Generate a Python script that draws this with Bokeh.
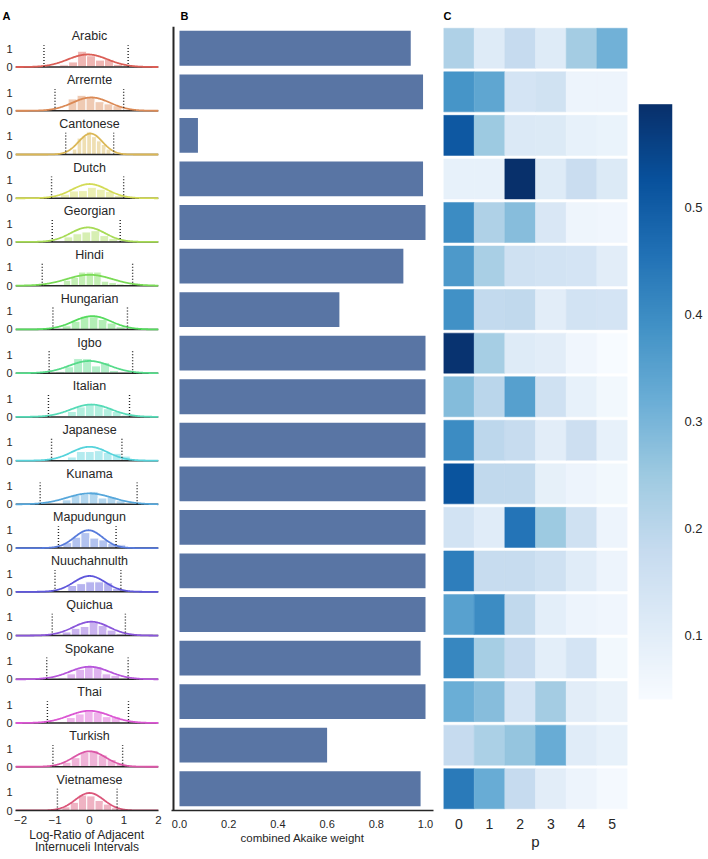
import colorsys
import numpy as np
from bokeh.plotting import figure
from bokeh.layouts import row
from bokeh.models import (Range1d, FactorRange, FixedTicker, PrintfTickFormatter, Span,
                          LinearColorMapper, LinearAxis, ColumnDataSource)
from bokeh.core.properties import value
from bokeh.palettes import Blues256
from bokeh.embed import file_html
from bokeh.resources import INLINE

# ---------------- data ----------------
languages = ["Arabic", "Arrernte", "Cantonese", "Dutch", "Georgian", "Hindi", "Hungarian",
             "Igbo", "Italian", "Japanese", "Kunama", "Mapudungun", "Nuuchahnulth",
             "Quichua", "Spokane", "Thai", "Turkish", "Vietnamese"]

# Panel A: fitted normal (mean, sd), interval bounds, histogram bins
norm_mu = [-0.05, 0.05, 0.03, 0.0, -0.05, 0.0, 0.08, 0.0, 0.05, 0.0, 0.0, -0.03, 0.0, 0.05, 0.0, 0.0, 0.0, 0.0]
norm_sd = [0.578, 0.546, 0.347, 0.511, 0.50, 0.665, 0.546, 0.595, 0.587, 0.525, 0.665, 0.407, 0.458, 0.525, 0.578, 0.595, 0.47, 0.415]
interval_lo = [-1.32, -1.00, -0.69, -1.10, -1.08, -1.37, -1.06, -1.17, -1.19, -1.10, -1.43, -0.90, -1.00, -1.08, -1.24, -1.22, -1.06, -0.93]
interval_hi = [1.12, 0.99, 0.70, 0.99, 0.89, 1.25, 1.10, 1.25, 1.16, 0.94, 1.38, 0.77, 0.91, 1.04, 1.12, 1.13, 0.96, 0.80]
bin_start = [-1.125, -0.62, -0.50, -0.84, -1.52, -0.98, -0.79, -0.98, -0.64, -0.64, -0.79, -1.03, -1.67, -0.79, -1.42, -0.93, -0.79, -0.80]
bin_width = [0.26, 0.26, 0.14, 0.26, 0.26, 0.22, 0.26, 0.26, 0.26, 0.26, 0.26, 0.26, 0.26, 0.26, 0.255, 0.26, 0.26, 0.24]

hist_arabic = [0.04, 0.12, 0.28, 0.87, 0.62, 0.38, 0.42, 0.15, 0.06]
hist_arrernte = [0.65, 0.85, 0.75, 0.50, 0.38, 0.28]
hist_cantonese = [0.30, 0.90, 1.00, 1.25, 0.98, 0.75, 0.55, 0.30]
hist_dutch = [0.22, 0.40, 0.42, 0.60, 0.50, 0.38, 0.15]
hist_georgian = [0.0, 0.04, 0.0, 0.28, 0.45, 0.55, 0.62, 0.35, 0.20]
hist_hindi = [0.08, 0.30, 0.45, 0.75, 0.75, 0.75, 0.25, 0.18, 0.10]
hist_hungarian = [0.20, 0.45, 0.72, 0.70, 0.55, 0.35, 0.15]
hist_igbo = [0.10, 0.35, 0.80, 0.80, 0.40, 0.58, 0.15]
hist_italian = [0.30, 0.55, 0.70, 0.65, 0.45, 0.30, 0.10]
hist_japanese = [0.20, 0.50, 0.50, 0.55, 0.45, 0.40, 0.25]
hist_kunama = [0.25, 0.50, 0.55, 0.70, 0.35, 0.40, 0.20]
hist_mapudungun = [0.08, 0.30, 0.60, 0.85, 0.55, 0.45, 0.25, 0.18]
hist_nuuchahnulth = [0.05, 0.0, 0.0, 0.0, 0.35, 0.45, 0.55, 0.55, 0.50, 0.20, 0.05]
hist_quichua = [0.20, 0.40, 0.50, 0.72, 0.55, 0.30, 0.10]
hist_spokane = [0.12, 0.0, 0.08, 0.30, 0.55, 0.70, 0.70, 0.30, 0.22]
hist_thai = [0.08, 0.30, 0.50, 0.65, 0.60, 0.35, 0.35]
hist_turkish = [0.25, 0.50, 0.80, 0.90, 0.65, 0.40, 0.20]
hist_vietnamese = [0.20, 0.45, 0.85, 0.80, 0.55, 0.35, 0.15]

# Panel B
akaike_weight = [0.94, 0.99, 0.075, 0.99, 1.0, 0.91, 0.65, 1.0, 1.0, 1.0, 1.0, 1.0, 1.0, 1.0, 0.98, 1.0, 0.60, 0.98]

# Panel C: one array per p column
p_labels = ["0", "1", "2", "3", "4", "5"]
heat_p0 = [0.22, 0.38, 0.51, 0.085, 0.40, 0.37, 0.39, 0.59, 0.285, 0.40, 0.52, 0.145, 0.43, 0.35, 0.41, 0.32, 0.18, 0.44]
heat_p1 = [0.11, 0.34, 0.25, 0.085, 0.22, 0.23, 0.185, 0.235, 0.20, 0.195, 0.19, 0.105, 0.175, 0.40, 0.235, 0.28, 0.225, 0.325]
heat_p2 = [0.18, 0.14, 0.12, 0.597, 0.28, 0.155, 0.19, 0.11, 0.355, 0.175, 0.19, 0.45, 0.175, 0.19, 0.18, 0.14, 0.26, 0.18]
heat_p3 = [0.11, 0.15, 0.115, 0.11, 0.125, 0.145, 0.10, 0.10, 0.155, 0.10, 0.09, 0.25, 0.155, 0.095, 0.095, 0.24, 0.325, 0.10]
heat_p4 = [0.24, 0.07, 0.085, 0.17, 0.065, 0.14, 0.145, 0.06, 0.085, 0.16, 0.07, 0.155, 0.105, 0.07, 0.14, 0.10, 0.105, 0.07]
heat_p5 = [0.31, 0.07, 0.075, 0.115, 0.06, 0.10, 0.14, 0.04, 0.055, 0.085, 0.055, 0.07, 0.07, 0.06, 0.055, 0.08, 0.085, 0.05]

colorbar_ticks = [0.1, 0.2, 0.3, 0.4, 0.5]

# ---------------- style ----------------
FONT = "Liberation Sans"
INK = "#262626"
H = 857
TOP, BOTTOM = 26, 44
FRAME_H = H - TOP - BOTTOM

hist_all = [hist_arabic, hist_arrernte, hist_cantonese, hist_dutch, hist_georgian, hist_hindi,
            hist_hungarian, hist_igbo, hist_italian, hist_japanese, hist_kunama, hist_mapudungun,
            hist_nuuchahnulth, hist_quichua, hist_spokane, hist_thai, hist_turkish, hist_vietnamese]
n = len(languages)
lang_colors = []
for i in range(n):
    r, g, b = colorsys.hls_to_rgb((0.01 + i / n) % 1, 0.6, 0.65)
    lang_colors.append("#%02x%02x%02x" % (int(r * 255), int(g * 255), int(b * 255)))


def style(p, title_offset=0):
    p.outline_line_color = None
    p.xgrid.visible = False
    p.ygrid.visible = False
    p.background_fill_color = "white"
    p.border_fill_color = "white"
    if p.title is not None:
        p.title.text_font = FONT
        p.title.text_font_size = "11px"
        p.title.text_font_style = "bold"
        p.title.text_color = "black"
        p.title.align = "left"
        p.title.offset = title_offset
        p.title.standoff = 10


def axis_style(ax, size="11px", standoff=6):
    ax.axis_line_color = None
    ax.major_tick_line_color = None
    ax.minor_tick_line_color = None
    ax.major_tick_out = 0
    ax.major_tick_in = 0
    ax.minor_tick_out = 0
    ax.minor_tick_in = 0
    ax.major_label_text_font = FONT
    ax.major_label_text_font_size = size
    ax.major_label_text_color = INK
    ax.major_label_standoff = standoff
    ax.axis_label_text_font = FONT
    ax.axis_label_text_font_style = "normal"
    ax.axis_label_text_color = INK


# ---------------- Panel A ----------------
step = 2.4
offsets = [round((n - 1 - i) * step, 6) for i in range(n)]
x_lo, x_hi = -2.145, 2.0
y_top = FRAME_H / (43.9 / step)
pA = figure(width=170, height=H, x_range=Range1d(x_lo, x_hi), y_range=Range1d(0, y_top),
            output_backend="svg", toolbar_location=None, title="A",
            min_border_left=15, min_border_right=12, min_border_top=TOP, min_border_bottom=BOTTOM)
style(pA, title_offset=-13)

ql, qr, qb, qt, qc = [], [], [], [], []
for i in range(n):
    for k, h in enumerate(hist_all[i]):
        if h > 0:
            left = bin_start[i] + k * bin_width[i]
            ql.append(left)
            qr.append(left + bin_width[i])
            qb.append(offsets[i])
            qt.append(offsets[i] + h)
            qc.append(lang_colors[i])
pA.quad(left=ql, right=qr, bottom=qb, top=qt, fill_color=qc, fill_alpha=0.45,
        line_color="white", line_width=1)

# baselines (bottom one is the x axis line)
pA.segment(x0=[x_lo] * (n - 1), y0=offsets[:-1], x1=[x_hi] * (n - 1), y1=offsets[:-1],
           line_color=INK, line_width=1.5)

xs = np.linspace(x_lo, x_hi, 241)
cx, cy = [], []
for i in range(n):
    pdf = np.exp(-0.5 * ((xs - norm_mu[i]) / norm_sd[i]) ** 2) / (norm_sd[i] * np.sqrt(2 * np.pi))
    cx.append(xs)
    cy.append(offsets[i] + pdf)
pA.multi_line(xs=cx, ys=cy, line_color=lang_colors, line_width=1.8)

dot_x = interval_lo + interval_hi
dot_y0 = offsets + offsets
dot_y1 = [o + 1.2 for o in dot_y0]
pA.segment(x0=dot_x, y0=dot_y0, x1=dot_x, y1=dot_y1, line_color="#222222",
           line_width=1.4, line_dash="1 2")

pA.text(x=[0.0] * n, y=[o + 1.68 for o in offsets], text=languages,
        text_font=value(FONT), text_font_size="12.5px", text_color=INK,
        text_align="center", text_baseline="middle")

yt = []
yo = {}
for o in offsets:
    yt += [o, round(o + 1, 6)]
    yo[o] = "0"
    yo[round(o + 1, 6)] = "1"
axis_style(pA.yaxis[0], size="11px", standoff=3)
pA.yaxis.ticker = FixedTicker(ticks=sorted(yt))
pA.yaxis.major_label_overrides = yo

axis_style(pA.xaxis[0], size="11.5px", standoff=5)
pA.xaxis.axis_line_color = INK
pA.xaxis.axis_line_width = 1.5
pA.xaxis.ticker = FixedTicker(ticks=[-2, -1, 0, 1, 2])
pA.xaxis.major_label_overrides = {-2: "\u22122", -1: "\u22121"}
pA.xaxis.axis_label = "Log-Ratio of Adjacent\nInternuceli Intervals"
pA.xaxis.axis_label_text_font_size = "12px"
pA.xaxis.axis_label_text_line_height = 0.9
pA.xaxis.axis_label_standoff = 1

# ---------------- Panel B ----------------
pB = figure(width=265, height=H, x_range=Range1d(-0.0325, 1.0325),
            y_range=FactorRange(factors=languages[::-1]),
            output_backend="svg", toolbar_location=None, title="B",
            min_border_left=1, min_border_right=2, min_border_top=TOP, min_border_bottom=BOTTOM)
style(pB, title_offset=9)
pB.hbar(y=languages, left=0, right=akaike_weight, height=0.8, fill_color="#5975a4", line_color=None)
pB.yaxis.visible = False
pB.add_layout(Span(location=-0.0244, dimension="height", line_color=INK, line_width=2))
axis_style(pB.xaxis[0], size="11px", standoff=9)
pB.xaxis.axis_line_color = INK
pB.xaxis.axis_line_width = 1.5
pB.xaxis.ticker = FixedTicker(ticks=[0.0, 0.2, 0.4, 0.6, 0.8, 1.0])
pB.xaxis.formatter = PrintfTickFormatter(format="%.1f")
pB.xaxis.axis_label = "combined Akaike weight"
pB.xaxis.axis_label_text_font_size = "11.5px"
pB.xaxis.axis_label_standoff = 1

# ---------------- Panel C ----------------
heat_cols = [heat_p0, heat_p1, heat_p2, heat_p3, heat_p4, heat_p5]
hx, hy, hv = [], [], []
for j, col in enumerate(heat_cols):
    for i, v in enumerate(col):
        hx.append(j)
        hy.append(languages[i])
        hv.append(v)
vmin, vmax = min(hv), max(hv)
mapper = LinearColorMapper(palette=list(Blues256[::-1]), low=vmin, high=vmax)
src = ColumnDataSource(dict(x=hx, y=hy, v=hv))

pC = figure(width=197, height=H, x_range=Range1d(-0.5, 5.5),
            y_range=FactorRange(factors=languages[::-1]),
            output_backend="svg", toolbar_location=None, title="C",
            min_border_left=8, min_border_right=5, min_border_top=TOP, min_border_bottom=BOTTOM)
style(pC, title_offset=0)
pC.rect(x="x", y="y", width=1, height=0.92, source=src,
        fill_color={"field": "v", "transform": mapper},
        line_color={"field": "v", "transform": mapper}, line_width=0.5)
pC.yaxis.visible = False
axis_style(pC.xaxis[0], size="14px", standoff=8)
pC.xaxis.ticker = FixedTicker(ticks=list(range(len(p_labels))))
pC.xaxis.major_label_overrides = {j: p_labels[j] for j in range(len(p_labels))}
pC.xaxis.axis_label = "p"
pC.xaxis.axis_label_text_font_size = "15px"
pC.xaxis.axis_label_standoff = 1

# ---------------- colour bar ----------------
cb_px = 1072.5          # pixels per unit of the colour scale
cb_top_gap = 78         # pixels between frame top and colour bar top
cb_hi = vmax + cb_top_gap / cb_px
cb_lo = cb_hi - FRAME_H / cb_px
pCB = figure(width=74, height=H, x_range=Range1d(0, 1), y_range=Range1d(cb_lo, cb_hi),
             output_backend="svg", toolbar_location=None,
             min_border_left=6, min_border_right=34, min_border_top=TOP, min_border_bottom=BOTTOM)
style(pCB)
pCB.xaxis.visible = False
pCB.yaxis.visible = False
grad = np.linspace(vmin, vmax, 256).reshape(256, 1)
pCB.image(image=[grad], x=0, y=vmin, dw=1, dh=vmax - vmin, color_mapper=mapper)
cax = LinearAxis(ticker=FixedTicker(ticks=colorbar_ticks), formatter=PrintfTickFormatter(format="%.1f"))
axis_style(cax, size="13px", standoff=12)
pCB.add_layout(cax, "right")

layout = row(pA, pB, pC, pCB)
open("out.html", "w").write(file_html(layout, INLINE))
